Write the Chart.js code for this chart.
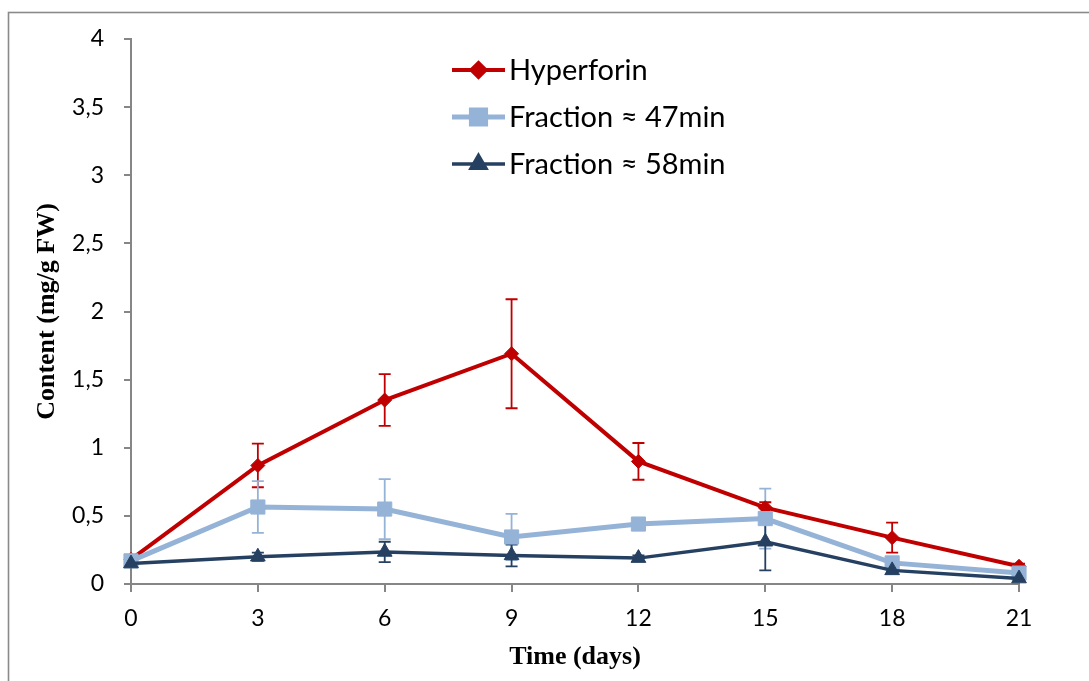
<!DOCTYPE html>
<html>
<head>
<meta charset="utf-8">
<script src="https://cdn.jsdelivr.net/npm/chart.js@4.4.0/dist/chart.umd.min.js"></script>
<style>
  body { margin: 0; background: #fff; }
  #wrap { width: 1089px; height: 681px; }
</style>
</head>
<body>
<div id="wrap"><canvas id="contentChart"></canvas></div>
<script>
// sampling days and y axis ticks
const days = [0, 3, 6, 9, 12, 15, 18, 21];
const yTicks = [0, 0.5, 1, 1.5, 2, 2.5, 3, 3.5, 4];

// mean content (mg/g FW) and standard deviation per day
const hyperforin    = [0.18, 0.87, 1.35, 1.69, 0.90, 0.56, 0.34, 0.13];
const hyperforinErr = [0.02, 0.16, 0.19, 0.40, 0.135, 0.04, 0.11, 0.02];
const frac47        = [0.17, 0.565, 0.55, 0.345, 0.44, 0.48, 0.155, 0.08];
const frac47Err     = [0.02, 0.19, 0.22, 0.17, 0.03, 0.22, 0.02, 0.01];
const frac58        = [0.15, 0.20, 0.235, 0.21, 0.19, 0.31, 0.10, 0.04];
const frac58Err     = [0.01, 0.03, 0.075, 0.08, 0.02, 0.21, 0.01, 0.01];

const seriesNames = ['Hyperforin', 'Fraction \u2248 47min', 'Fraction \u2248 58min'];

const axisGrey = '#868686';
const tickFont = { family: 'Lato', size: 23 };
const titleFont = { family: 'Liberation Serif', size: 26, weight: 'bold' };

const toPoints = vals => days.map((d, i) => ({ x: d, y: vals[i] }));

// white page with the frame line
const frame = {
  id: 'frame',
  beforeDraw(chart) {
    const ctx = chart.ctx;
    ctx.save();
    ctx.fillStyle = '#fff';
    ctx.fillRect(0, 0, chart.width, chart.height);
    ctx.strokeStyle = '#8a8a8a';
    ctx.lineWidth = 1.6;
    ctx.strokeRect(8.5, 12.5, chart.width + 20, chart.height + 20);
    ctx.restore();
  }
};

// vertical error bars with caps, under the lines
const errorBars = {
  id: 'errorBars',
  beforeDatasetsDraw(chart) {
    const { ctx, scales: { x, y } } = chart;
    ctx.save();
    chart.data.datasets.forEach(ds => {
      ctx.strokeStyle = ds.borderColor;
      ctx.lineWidth = 1.8;
      ds.data.forEach((p, i) => {
        const e = ds.errors[i];
        const px = x.getPixelForValue(p.x);
        const top = y.getPixelForValue(p.y + e);
        const bot = y.getPixelForValue(p.y - e);
        ctx.beginPath();
        ctx.moveTo(px, top); ctx.lineTo(px, bot);
        ctx.moveTo(px - 6, top); ctx.lineTo(px + 6, top);
        ctx.moveTo(px - 6, bot); ctx.lineTo(px + 6, bot);
        ctx.stroke();
      });
    });
    ctx.restore();
  }
};

// legend sitting inside the plot area
const innerLegend = {
  id: 'innerLegend',
  afterDraw(chart) {
    const ctx = chart.ctx;
    const x0 = 452, x1 = 505, rowTop = 70, rowGap = 47;
    ctx.save();
    ctx.font = '29px Lato';
    ctx.textBaseline = 'middle';
    ctx.fillStyle = '#000';
    seriesNames.forEach((name, i) => {
      const ds = chart.data.datasets[i];
      const yy = rowTop + i * rowGap;
      ctx.strokeStyle = ds.borderColor;
      ctx.lineWidth = ds.borderWidth;
      ctx.beginPath();
      ctx.moveTo(x0, yy); ctx.lineTo(x1, yy);
      ctx.stroke();
      ctx.fillStyle = ds.pointBackgroundColor;
      ctx.strokeStyle = ds.pointBackgroundColor;
      Chart.helpers.drawPoint(ctx, { pointStyle: ds.pointStyle, radius: ds.pointRadius, borderWidth: 1, rotation: 0 }, (x0 + x1) / 2, yy);
      ctx.fillStyle = '#000';
      ctx.fillText(name, 509, yy + 1);
    });
    ctx.restore();
  }
};

const makeSet = (label, vals, errs, color, style, radius, width, order) => ({
  label: label,
  data: toPoints(vals),
  errors: errs,
  borderColor: color,
  backgroundColor: color,
  pointBackgroundColor: color,
  pointBorderColor: color,
  pointBorderWidth: 1,
  borderWidth: width,
  pointStyle: style,
  pointRadius: radius,
  pointHoverRadius: radius,
  tension: 0,
  clip: false,
  order: order
});

new Chart(document.getElementById('contentChart'), {
  type: 'line',
  data: {
    datasets: [
      makeSet(seriesNames[0], hyperforin, hyperforinErr, '#C00000', 'rectRot', 7, 4, 2),
      makeSet(seriesNames[1], frac47, frac47Err, '#95B3D7', 'rect', 10, 5, 1),
      makeSet(seriesNames[2], frac58, frac58Err, '#254061', 'triangle', 8.5, 3.5, 0)
    ]
  },
  options: {
    responsive: true,
    maintainAspectRatio: false,
    animation: false,
    layout: { padding: { left: 0, top: 39, right: 70, bottom: 0 } },
    plugins: {
      legend: { display: false },
      tooltip: { enabled: false }
    },
    scales: {
      x: {
        type: 'linear',
        min: 0,
        max: 21,
        afterBuildTicks: s => { s.ticks = days.map(v => ({ value: v })); },
        afterFit: s => { s.height = 97; },
        grid: { drawOnChartArea: false, drawTicks: true, tickLength: 8, color: axisGrey, lineWidth: 2 },
        border: { color: axisGrey, width: 2 },
        ticks: { color: '#000', font: tickFont, padding: 13, maxRotation: 0 },
        title: { display: true, text: 'Time (days)', color: '#000', font: titleFont, padding: { top: 0, bottom: 8 } }
      },
      y: {
        min: 0,
        max: 4,
        afterBuildTicks: s => { s.ticks = yTicks.map(v => ({ value: v })); },
        afterFit: s => { s.width = 131; },
        grid: { drawOnChartArea: false, drawTicks: true, tickLength: 7, color: axisGrey, lineWidth: 2 },
        border: { color: axisGrey, width: 2 },
        ticks: {
          color: '#000',
          font: tickFont,
          padding: 20,
          callback: v => String(v).replace('.', ',')
        },
        title: { display: true, text: 'Content (mg/g FW)', color: '#000', font: titleFont, padding: { top: 32, bottom: 0 } }
      }
    }
  },
  plugins: [frame, errorBars, innerLegend]
});
</script>
</body>
</html>
